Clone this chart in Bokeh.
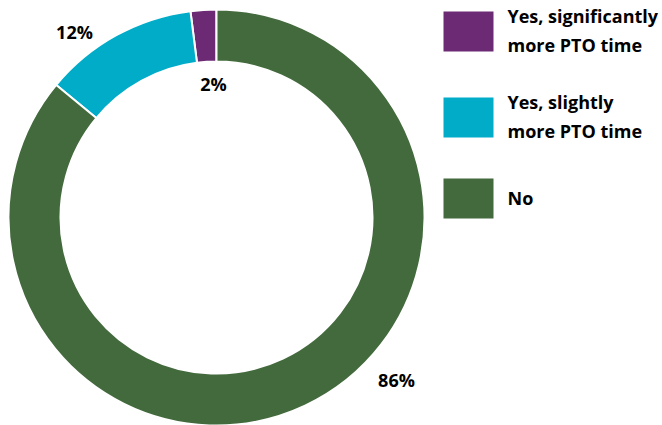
import math
from bokeh.plotting import figure
from bokeh.models import Range1d, ColumnDataSource
from bokeh.core.properties import value
from bokeh.embed import file_html
from bokeh.resources import INLINE

# Survey answers and their shares (percent)
categories = ["Yes, significantly\nmore PTO time", "Yes, slightly\nmore PTO time", "No"]
shares = [2, 12, 86]
colors = ["#6C2A74", "#00ACC8", "#436A3C"]

W, H = 662, 425
FONT = "Open Sans"

p = figure(width=W, height=H, output_backend="svg", toolbar_location=None,
           x_range=Range1d(0, W), y_range=Range1d(0, H), min_border=0,
           background_fill_color="white", border_fill_color="white")
p.axis.visible = False
p.grid.visible = False
p.outline_line_color = None

# Donut: slices run anticlockwise from 12 o'clock
cx, cy = 216, H - 217
r_in, r_out = 156, 208
starts, ends = [], []
acc = 0.0
for s in shares:
    starts.append(math.pi / 2 + 2 * math.pi * acc / 100)
    acc += s
    ends.append(math.pi / 2 + 2 * math.pi * acc / 100)

src = ColumnDataSource(dict(start=starts, end=ends, color=colors))
p.annular_wedge(x=cx, y=cy, inner_radius=r_in, outer_radius=r_out,
                start_angle="start", end_angle="end", fill_color="color",
                line_color="white", line_width=2, source=src)

# Percent labels
label_x = [213, 74, 396]
label_y = [H - 83, H - 31, H - 379]
p.text(x=label_x, y=label_y, text=[f"{s}%" for s in shares],
       text_font=value(FONT), text_font_style="bold", text_font_size="18px",
       text_color="#000000", text_align="center", text_baseline="middle")

# Legend drawn as swatches and text
leg_y = [H - 31, H - 117, H - 198]
p.rect(x=[468] * 3, y=leg_y, width=50, height=40, fill_color=colors, line_color=None)
p.text(x=[507] * 3, y=[y + 1 for y in leg_y], text=categories,
       text_font=value(FONT), text_font_style="bold", text_font_size="18px",
       text_color="#000000", text_align="left", text_baseline="middle",
       text_line_height=1.2)

open("out.html", "w").write(file_html(p, INLINE))
